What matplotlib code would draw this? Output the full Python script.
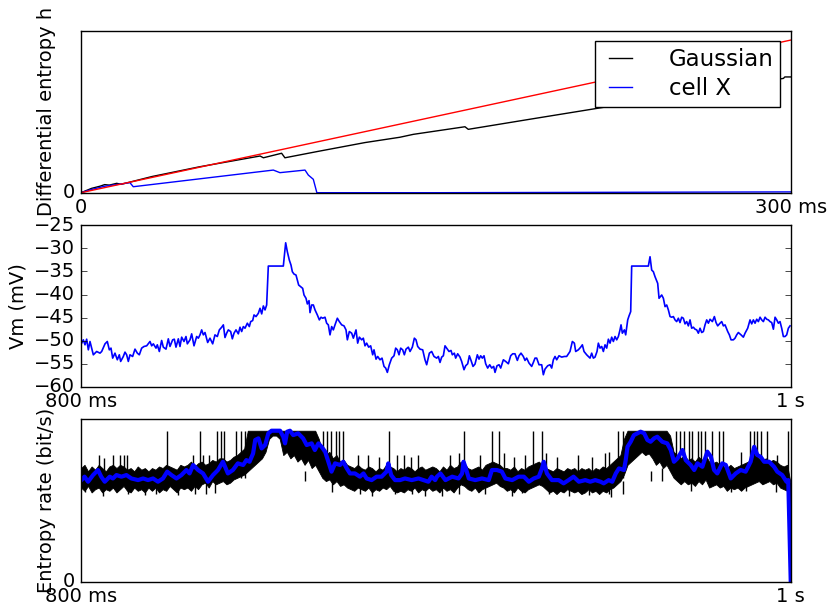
import numpy as np
import matplotlib
matplotlib.use('Agg')
import matplotlib.pyplot as plt

# --- top panel: differential entropy vs time (ms) ---
ref_t = [0, 300]
ref_h = [0, 0.944]

gauss_t = [0, 4.5, 8, 10, 12, 15.1, 17, 30, 50, 75.7, 77.1, 84.8, 86.2, 100, 120,
           134.8, 140.5, 162.3, 163.7, 190, 216.6, 250, 280, 296.9, 297.5, 300]
gauss_h = [0, 0.027, 0.04, 0.05, 0.047, 0.058, 0.052, 0.10, 0.16, 0.227, 0.216,
           0.244, 0.216, 0.255, 0.31, 0.343, 0.361, 0.408, 0.392, 0.455, 0.518,
           0.597, 0.668, 0.707, 0.716, 0.716]

cell_t = [0, 4.5, 10, 20.7, 22.1, 81.3, 84.1, 94.7, 96.1, 98.2, 99.7, 150, 300]
cell_h = [0, 0.02, 0.04, 0.062, 0.037, 0.14, 0.124, 0.14, 0.109, 0.083, 0.0, 0.0, 0.005]

# --- middle panel: membrane potential (ms, mV) ---
vm_t = [800.19, 800.66, 801.13, 801.60, 802.07, 802.54, 803.48, 804.42, 805.36, 805.83,
        806.77, 807.42, 807.99, 808.46, 808.93, 809.58, 810.24, 810.80, 811.18, 811.93,
        812.40, 812.87, 813.34, 813.81, 814.56, 815.22, 815.88, 816.44, 817.10, 817.76,
        818.51, 819.45, 819.92, 820.39, 821.14, 821.51, 822.08, 822.73, 823.20, 823.96,
        824.61, 825.08, 825.83, 826.30, 826.77, 827.43, 827.90, 828.37, 829.03, 829.59,
        829.97, 830.72, 831.19, 831.85, 832.60, 833.07, 833.54, 834.01, 834.48, 834.95,
        835.70, 836.35, 837.11, 837.76, 838.42, 838.99, 839.65, 840.12, 840.58, 841.05,
        841.52, 842.18, 842.65, 843.12, 843.68, 844.34, 844.81, 845.28, 845.75, 846.22,
        846.88, 847.44, 847.82, 848.38, 848.76, 849.32, 849.98, 850.45, 850.92, 851.39,
        851.86, 852.32, 852.79, 857.02, 857.68, 858.15, 858.71, 859.18, 859.56, 860.03,
        860.59, 860.97, 861.34, 861.91, 862.47, 862.85, 863.41, 863.79, 864.26, 864.54,
        865.01, 865.48, 865.95, 866.60, 867.17, 867.64, 868.11, 868.76, 869.23, 869.70,
        870.17, 870.64, 871.11, 871.58, 872.24, 872.80, 873.46, 874.12, 874.68, 875.06,
        875.62, 876.28, 876.75, 877.50, 877.97, 878.44, 879.10, 879.56, 880.03, 880.50,
        881.07, 881.63, 882.20, 882.57, 883.14, 883.61, 884.26, 884.83, 885.39, 885.86,
        886.33, 886.89, 887.55, 888.21, 888.68, 889.15, 889.62, 890.09, 890.65, 891.12,
        891.59, 892.25, 892.72, 893.37, 893.94, 894.41, 894.88, 895.54, 896.29, 896.94,
        897.41, 898.17, 898.82, 899.48,
        900.23, 900.70, 901.17, 901.64, 902.11, 902.58, 903.05, 903.71, 904.27, 904.64,
        905.21, 905.58, 906.15, 906.80, 907.27, 907.93, 908.40, 908.97, 909.44, 909.91,
        910.47, 911.03, 911.69, 912.16, 912.63, 913.10, 913.57, 914.04, 914.60, 915.17,
        915.73, 916.29, 916.67, 917.23, 917.80, 918.27, 919.02, 919.67, 920.43, 921.08,
        921.65, 922.30, 922.96, 923.43, 923.99, 924.65, 925.12, 925.59, 926.25, 927.00,
        927.47, 927.94, 928.41, 929.07, 929.82, 930.29, 930.76, 931.51, 932.17, 932.64,
        933.11, 933.58, 934.05, 934.70, 935.46, 936.21, 936.86, 937.80, 938.46, 939.03,
        939.40, 940.15, 940.81, 941.28, 941.75, 942.50, 942.97, 943.44, 943.91, 944.38,
        944.85, 945.41, 945.79, 946.26, 946.73, 947.20, 947.67, 948.14, 948.61, 949.08,
        949.55, 950.02, 950.49, 950.96, 951.43, 951.89, 952.18, 952.55, 953.12, 953.49,
        954.06, 954.43, 954.90, 955.18, 959.88, 960.35, 960.82, 961.29, 961.76, 962.51,
        962.89, 963.64, 964.11, 964.58, 965.05, 965.52, 965.99, 966.46, 966.93, 967.39,
        967.86, 968.33, 968.80, 969.27, 969.74, 970.21, 970.68, 971.15, 971.62, 972.09,
        972.56, 973.03, 973.50, 973.97, 974.44, 974.91, 975.38, 975.85, 976.32, 976.79,
        977.26, 977.92, 978.48, 978.95, 979.42, 980.08, 980.55, 981.02, 981.49, 982.24,
        982.71, 983.18, 983.83, 984.30, 984.77, 985.24, 985.99, 986.65, 987.12, 987.87,
        988.53, 989.00, 989.47, 989.94, 990.41, 990.88, 991.35, 991.82, 992.29, 992.76,
        993.23, 993.70, 994.17, 994.64, 995.11, 995.58, 996.05, 996.51, 996.98, 997.45,
        997.92, 998.39, 998.86, 999.33, 999.80]
vm_v = [-50.56, -49.84, -50.92, -49.70, -52.01, -50.20, -53.09, -52.37, -52.73, -52.37,
        -50.71, -50.20, -52.01, -51.64, -53.81, -52.73, -54.17, -53.09, -54.53, -53.45,
        -52.51, -53.09, -54.53, -53.09, -53.45, -51.86, -52.73, -53.09, -51.64, -51.28,
        -51.14, -50.20, -51.14, -50.71, -51.64, -50.92, -52.37, -49.98, -51.43, -51.86,
        -49.62, -51.28, -49.84, -49.70, -51.43, -49.62, -51.28, -49.26, -50.20, -49.12,
        -50.71, -49.84, -48.54, -51.14, -49.12, -49.48, -48.76, -47.68, -48.76, -48.25,
        -50.42, -49.48, -50.71, -48.76, -49.12, -47.68, -47.10, -46.59, -49.34, -48.40,
        -47.68, -48.04, -49.62, -48.40, -47.68, -48.54, -47.10, -48.04, -46.96, -47.32,
        -46.23, -46.96, -45.88, -45.66, -44.43, -44.79, -44.07, -42.99, -44.21, -42.48,
        -43.35, -42.27, -33.82, -33.82, -28.77, -30.72, -32.53, -33.61, -35.05, -35.56,
        -35.77, -36.85, -37.94, -38.30, -38.66, -40.10, -40.82, -42.05, -41.33, -43.93,
        -42.27, -42.27, -43.35, -44.43, -45.51, -44.93, -45.15, -44.93, -46.23, -46.59,
        -48.76, -46.96, -47.68, -46.59, -45.15, -45.88, -46.59, -46.81, -47.68, -49.84,
        -48.04, -48.40, -49.48, -47.68, -50.56, -49.26, -49.84, -49.48, -51.14, -50.56,
        -51.43, -51.14, -53.09, -52.01, -54.03, -53.45, -54.17, -53.81, -55.61, -55.97,
        -56.91, -55.25, -53.81, -53.30, -51.64, -52.01, -53.09, -51.64, -52.01, -53.09,
        -51.86, -51.43, -52.37, -51.43, -49.48, -49.84, -51.28, -51.86, -52.01, -54.17,
        -55.25, -52.73, -52.37, -53.45,
        -53.81, -53.45, -54.75, -53.59, -53.30, -51.14, -51.64, -52.37, -52.15, -53.09,
        -52.73, -53.81, -52.87, -53.59, -54.53, -56.33, -55.47, -55.04, -53.30, -54.31,
        -55.61, -55.11, -53.09, -54.03, -53.30, -53.81, -53.30, -55.04, -55.97, -55.25,
        -55.97, -55.61, -56.91, -55.47, -55.25, -55.97, -54.17, -54.53, -55.04, -53.30,
        -52.87, -52.87, -54.31, -53.30, -52.73, -53.45, -54.31, -53.81, -54.89, -55.61,
        -54.75, -53.81, -53.81, -55.25, -55.25, -57.42, -56.19, -55.47, -55.25, -55.97,
        -54.17, -53.45, -54.17, -53.30, -53.59, -53.45, -53.45, -52.37, -50.20, -50.56,
        -52.37, -52.01, -51.43, -50.92, -52.37, -53.09, -53.45, -53.81, -52.73, -53.81,
        -53.59, -52.37, -50.56, -51.64, -51.28, -52.37, -50.92, -51.64, -49.70, -50.56,
        -49.26, -50.20, -49.12, -49.84, -49.12, -47.68, -46.59, -48.40, -47.68, -48.76,
        -45.51, -44.65, -43.71, -33.82, -33.82, -31.80, -34.69, -35.05, -36.13, -37.58,
        -40.82, -40.10, -40.82, -42.63, -42.27, -43.35, -44.79, -44.93, -44.79, -45.51,
        -45.88, -45.15, -46.09, -44.93, -45.15, -46.38, -45.88, -46.81, -45.51, -47.32,
        -47.10, -47.53, -47.68, -48.40, -47.32, -48.25, -48.04, -46.59, -45.51, -46.23,
        -45.37, -45.88, -44.79, -46.09, -46.81, -46.23, -45.88, -46.81, -46.59, -48.04,
        -48.76, -49.84, -49.84, -49.48, -48.76, -48.25, -48.76, -49.26, -48.40, -47.32,
        -45.51, -46.38, -45.51, -46.23, -45.37, -45.88, -44.93, -45.51, -45.88, -44.93,
        -45.37, -45.51, -45.88, -46.09, -47.53, -44.93, -45.51, -46.23, -45.88, -47.32,
        -49.12, -49.12, -48.76, -47.32, -46.81]

# --- bottom panel: entropy rate ---
# raw estimate, read per ms as the low / high edge of the dense black band
raw_t = np.arange(800, 1001)
raw_lo = [
    0.58, 0.56, 0.59, 0.55, 0.57, 0.58, 0.55, 0.57, 0.56, 0.58,
    0.55, 0.57, 0.59, 0.56, 0.55, 0.58, 0.56, 0.57, 0.55, 0.58,
    0.56, 0.58, 0.55, 0.57, 0.56, 0.59, 0.57, 0.55, 0.58, 0.57,
    0.58, 0.56, 0.59, 0.57, 0.60, 0.61, 0.58, 0.62, 0.60, 0.61,
    0.62, 0.60, 0.61, 0.63, 0.64, 0.65, 0.66, 0.68, 0.70, 0.72,
    0.74, 0.76, 0.80, 0.88, 0.90, 0.90, 0.88, 0.78, 0.80, 0.76,
    0.78, 0.74, 0.76, 0.72, 0.75, 0.70, 0.72, 0.68, 0.64, 0.62,
    0.63, 0.60, 0.62, 0.59, 0.60, 0.58, 0.57, 0.56, 0.58, 0.57,
    0.56, 0.58, 0.55, 0.57, 0.56, 0.58, 0.57, 0.59, 0.56, 0.55,
    0.56, 0.55, 0.57, 0.56, 0.58, 0.55, 0.57, 0.56, 0.58, 0.56,
    0.57, 0.55, 0.58, 0.56, 0.57, 0.55, 0.58, 0.60, 0.59, 0.57,
    0.56, 0.58, 0.55, 0.57, 0.58, 0.59, 0.60, 0.61, 0.59, 0.58,
    0.56, 0.57, 0.55, 0.58, 0.56, 0.55, 0.57, 0.58, 0.59, 0.60,
    0.59, 0.57, 0.55, 0.56, 0.54, 0.56, 0.55, 0.57, 0.56, 0.55,
    0.56, 0.54, 0.55, 0.57, 0.55, 0.56, 0.54, 0.56, 0.55, 0.57,
    0.58, 0.60, 0.62, 0.66, 0.72, 0.74, 0.76, 0.78, 0.80, 0.78,
    0.79, 0.76, 0.72, 0.74, 0.70, 0.72, 0.68, 0.64, 0.62, 0.60,
    0.62, 0.60, 0.61, 0.59, 0.62, 0.60, 0.63, 0.58, 0.59, 0.60,
    0.58, 0.59, 0.56, 0.58, 0.57, 0.58, 0.56, 0.58, 0.59, 0.60,
    0.61, 0.62, 0.60, 0.61, 0.62, 0.60, 0.61, 0.58, 0.57, 0.56,
    0.0]
raw_hi = [
    0.70, 0.72, 0.68, 0.71, 0.69, 0.72, 0.70, 0.68, 0.71, 0.72,
    0.70, 0.72, 0.71, 0.69, 0.70, 0.68, 0.71, 0.69, 0.70, 0.68,
    0.70, 0.69, 0.71, 0.70, 0.72, 0.71, 0.70, 0.69, 0.72, 0.71,
    0.72, 0.74, 0.71, 0.73, 0.74, 0.72, 0.73, 0.75, 0.74, 0.76,
    0.76, 0.74, 0.75, 0.77, 0.78, 0.80, 0.82, 0.93, 0.93, 0.93,
    0.93, 0.93, 0.93, 0.93, 0.93, 0.93, 0.93, 0.93, 0.93, 0.93,
    0.93, 0.93, 0.93, 0.93, 0.93, 0.93, 0.93, 0.88, 0.80, 0.78,
    0.80, 0.76, 0.78, 0.74, 0.75, 0.72, 0.71, 0.70, 0.72, 0.70,
    0.69, 0.71, 0.70, 0.68, 0.70, 0.69, 0.72, 0.71, 0.70, 0.68,
    0.70, 0.69, 0.71, 0.70, 0.68, 0.70, 0.71, 0.69, 0.70, 0.71,
    0.70, 0.68, 0.71, 0.69, 0.72, 0.70, 0.71, 0.74, 0.73, 0.70,
    0.69, 0.70, 0.71, 0.69, 0.72, 0.73, 0.74, 0.73, 0.72, 0.70,
    0.70, 0.69, 0.71, 0.68, 0.70, 0.69, 0.71, 0.72, 0.73, 0.74,
    0.72, 0.70, 0.69, 0.68, 0.70, 0.69, 0.68, 0.70, 0.69, 0.70,
    0.68, 0.70, 0.69, 0.70, 0.68, 0.70, 0.69, 0.71, 0.70, 0.72,
    0.74, 0.76, 0.78, 0.88, 0.93, 0.93, 0.93, 0.93, 0.93, 0.93,
    0.93, 0.93, 0.93, 0.93, 0.93, 0.93, 0.90, 0.80, 0.78, 0.76,
    0.78, 0.75, 0.76, 0.74, 0.77, 0.75, 0.78, 0.74, 0.73, 0.74,
    0.72, 0.71, 0.70, 0.72, 0.70, 0.71, 0.72, 0.73, 0.74, 0.76,
    0.78, 0.76, 0.75, 0.76, 0.74, 0.75, 0.74, 0.72, 0.71, 0.72,
    0.60]
# single-sample excursions above the band
spike_t = [805.0, 806.5, 809.0, 811.0, 812.0, 813.0, 824.3, 831.6, 833.4, 834.5,
           836.0, 838.4, 839.4, 840.3, 843.8, 845.2, 846.1, 868.2, 869.3, 870.5,
           871.8, 872.6, 873.9, 878.0, 881.0, 884.0, 886.9, 889.0, 891.0, 893.0,
           895.0, 903.9, 906.4, 908.0, 912.5, 915.8, 917.7, 919.1, 922.0, 925.0,
           927.3, 929.9, 931.0, 934.0, 940.0, 944.0, 947.8, 948.8, 951.3, 952.8,
           967.8, 968.8, 970.0, 971.3, 972.2, 973.8, 974.7, 975.8, 977.8, 979.8,
           980.8, 986.0, 988.6, 989.6, 990.6, 991.5, 993.4, 996.0, 999.2]
spike_top = [0.78, 0.76, 0.78, 0.78, 0.78, 0.78, 0.93, 0.78, 0.93, 0.78,
             0.78, 0.93, 0.93, 0.93, 0.93, 0.93, 0.93, 0.93, 0.93, 0.93,
             0.93, 0.93, 0.93, 0.78, 0.78, 0.77, 0.93, 0.78, 0.78, 0.77,
             0.78, 0.78, 0.79, 0.93, 0.78, 0.93, 0.93, 0.79, 0.77, 0.78,
             0.93, 0.93, 0.79, 0.77, 0.78, 0.77, 0.79, 0.80, 0.93, 0.93,
             0.93, 0.93, 0.93, 0.93, 0.93, 0.93, 0.93, 0.93, 0.93, 0.93,
             0.93, 0.80, 0.93, 0.93, 0.93, 0.93, 0.93, 0.78, 0.93]
# single-sample excursions below the band
dip_t = [801.0, 806.2, 813.2, 818.0, 821.2, 827.3, 832.0, 835.3, 837.7, 863.1,
         870.6, 878.6, 881.9, 888.5, 893.2, 896.9, 901.7, 906.4, 913.9, 921.5,
         924.3, 931.8, 937.4, 943.1, 948.7, 949.3, 952.6, 960.5, 963.8, 971.8,
         983.1, 987.3, 995.8]
dip_bottom = [0.55, 0.525, 0.54, 0.535, 0.54, 0.535, 0.54, 0.54, 0.545, 0.68,
              0.55, 0.54, 0.53, 0.54, 0.54, 0.53, 0.53, 0.54, 0.54, 0.53,
              0.545, 0.54, 0.53, 0.535, 0.54, 0.52, 0.54, 0.68, 0.70, 0.56,
              0.55, 0.56, 0.55]

smooth_t = [800.1, 801.0, 802.0, 803.4, 804.8, 805.7, 806.7, 808.1, 809.0, 810.0, 811.4,
            812.8, 814.2, 816.1, 817.5, 818.9, 820.3, 821.7, 823.1, 824.3, 825.5, 826.9,
            828.3, 829.7, 830.6, 831.6, 833.0, 834.4, 835.8, 837.2, 838.6, 840.0, 841.4,
            842.8, 844.2, 845.7, 846.6, 847.5, 848.5, 849.1, 850.0, 850.9, 851.9, 852.8,
            853.7, 854.7, 856.1, 857.0, 857.5, 858.1, 858.9, 859.8, 861.2, 862.6, 863.6,
            865.0, 865.9, 866.9, 867.8, 868.8, 869.7, 870.6, 871.6, 873.0, 873.9, 874.9,
            875.8, 877.2, 878.6, 879.6, 880.5, 881.9, 883.3, 884.7, 886.1, 886.6, 887.4,
            888.5, 889.9, 891.3, 893.2, 895.1, 896.5, 897.9, 898.8, 899.8,
            900.3, 901.3, 902.7, 904.6, 906.4, 907.4, 907.8, 908.3, 909.3, 911.1, 913.0,
            914.9, 915.8, 917.2, 918.6, 919.6, 921.5, 923.3, 924.8, 926.2, 927.6, 929.0,
            929.9, 930.4, 931.3, 932.7, 934.6, 936.0, 937.4, 938.8, 940.3, 942.1, 943.5,
            944.9, 946.4, 947.3, 948.7,
            949.7, 950.7, 951.6, 953.0, 953.5, 954.0, 954.9, 955.8, 956.8, 957.7, 958.7,
            959.6, 960.5, 961.5, 962.4, 963.8, 965.2, 966.2, 967.1, 968.1, 969.5, 970.4,
            971.8, 972.8, 973.7, 975.1, 976.5, 977.5, 978.4, 979.3, 980.7, 981.7, 983.1,
            984.5, 985.9, 987.3, 988.7, 989.7, 990.6, 991.5, 992.5, 993.9, 995.3, 996.2,
            997.6, 998.8, 999.3, 1000.0]
smooth_v = [0.626, 0.647, 0.616, 0.657, 0.688, 0.647, 0.616, 0.647, 0.636, 0.657, 0.647,
            0.657, 0.636, 0.626, 0.636, 0.626, 0.636, 0.616, 0.636, 0.678, 0.657, 0.636,
            0.657, 0.688, 0.667, 0.719, 0.688, 0.667, 0.616, 0.657, 0.688, 0.739, 0.667,
            0.688, 0.729, 0.719, 0.749, 0.739, 0.790, 0.873, 0.883, 0.821, 0.842, 0.914,
            0.930, 0.930, 0.930, 0.893, 0.852, 0.924, 0.930, 0.903, 0.914, 0.883, 0.842,
            0.852, 0.811, 0.852, 0.831, 0.801, 0.739, 0.678, 0.729, 0.719, 0.739, 0.698,
            0.667, 0.667, 0.647, 0.667, 0.636, 0.626, 0.647, 0.647, 0.678, 0.729, 0.657,
            0.626, 0.626, 0.636, 0.626, 0.636, 0.626, 0.616, 0.647, 0.626,
            0.647, 0.667, 0.626, 0.647, 0.636, 0.667, 0.739, 0.708, 0.636, 0.626, 0.636,
            0.626, 0.688, 0.688, 0.678, 0.636, 0.626, 0.647, 0.647, 0.616, 0.636, 0.647,
            0.698, 0.739, 0.667, 0.626, 0.626, 0.606, 0.626, 0.647, 0.616, 0.626, 0.616,
            0.626, 0.616, 0.606, 0.626,
            0.616, 0.667, 0.698, 0.688, 0.749, 0.831, 0.862, 0.903, 0.914, 0.924, 0.914,
            0.873, 0.862, 0.883, 0.893, 0.862, 0.852, 0.811, 0.739, 0.760, 0.811, 0.749,
            0.719, 0.688, 0.729, 0.708, 0.801, 0.770, 0.688, 0.667, 0.729, 0.719, 0.636,
            0.667, 0.688, 0.678, 0.739, 0.831, 0.780, 0.770, 0.739, 0.739, 0.708, 0.678,
            0.657, 0.616, 0.626, 0.0]


def main():
    plt.style.use('classic')
    plt.rcParams['xtick.labelsize'] = 14
    plt.rcParams['ytick.labelsize'] = 14
    plt.rcParams['axes.labelsize'] = 14
    fig = plt.figure(figsize=(8.28, 6.06), dpi=100, facecolor='white')

    # top
    ax1 = fig.add_axes([0.0978, 0.682, 0.8572, 0.2668])
    ax1.plot(gauss_t, gauss_h, 'k', label='Gaussian')
    ax1.plot(cell_t, cell_h, 'b', label='cell X')
    ax1.plot(ref_t, ref_h, 'r')
    ax1.set_xlim(0, 300)
    ax1.set_ylim(0, 1)
    ax1.set_xticks([0, 300])
    ax1.set_xticklabels(['0', '300 ms'])
    ax1.set_yticks([0])
    ax1.set_ylabel('Differential entropy h')
    ax1.legend(loc='upper right', fontsize=16.5, handlelength=1.6,
               handletextpad=1.3, borderpad=0.3, labelspacing=0.25,
               borderaxespad=0.45)

    # middle
    ax2 = fig.add_axes([0.0978, 0.362, 0.8572, 0.266])
    ax2.plot(vm_t, vm_v, 'b', lw=1.2)
    ax2.set_xlim(800, 1000)
    ax2.set_ylim(-60, -25)
    ax2.set_yticks(range(-60, -24, 5))
    ax2.set_xticks([800, 1000])
    ax2.set_xticklabels(['800 ms', '1 s'])
    ax2.set_ylabel('Vm (mV)')

    # bottom
    ax3 = fig.add_axes([0.0978, 0.040, 0.8572, 0.268])
    ax3.fill_between(raw_t, raw_lo, raw_hi, facecolor='k', edgecolor='k', lw=0.6)
    ax3.vlines(spike_t, 0.64, spike_top, colors='k', lw=1.0)
    ax3.vlines(dip_t, dip_bottom, 0.62, colors='k', lw=1.0)
    ax3.plot(smooth_t, smooth_v, 'b', lw=3)
    ax3.set_xlim(800, 1000)
    ax3.set_ylim(0, 1)
    ax3.set_yticks([0])
    ax3.set_xticks([800, 1000])
    ax3.set_xticklabels(['800 ms', '1 s'])
    ax3.set_ylabel('Entropy rate (bit/s)')

    fig.savefig('out.png', dpi=100, facecolor='white')


if __name__ == "__main__":
    main()
